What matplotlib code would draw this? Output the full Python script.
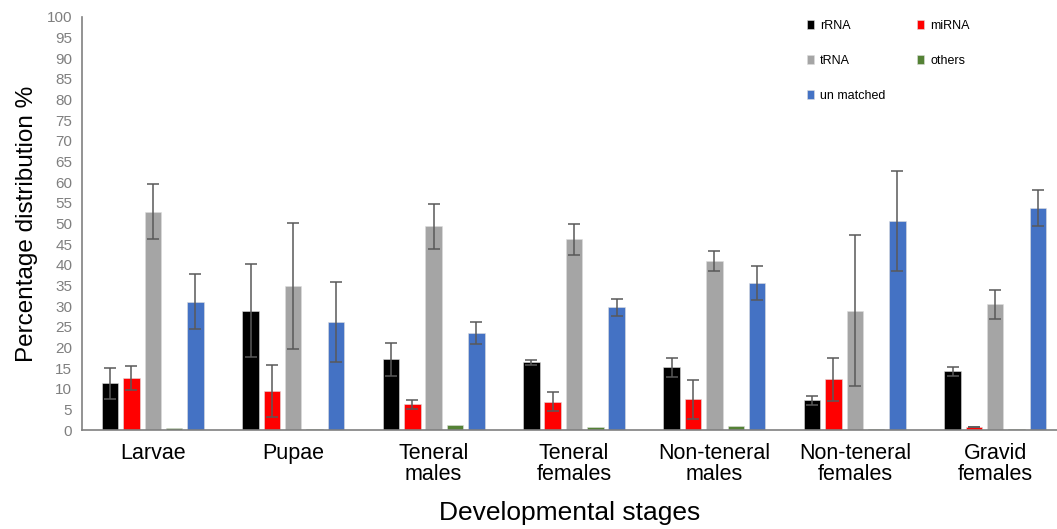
import numpy as np
import matplotlib
matplotlib.use("Agg")
import matplotlib.pyplot as plt

# data
stages = ["Larvae", "Pupae", "Teneral\nmales", "Teneral\nfemales",
          "Non-teneral\nmales", "Non-teneral\nfemales", "Gravid\nfemales"]
series = ["rRNA", "miRNA", "tRNA", "others", "un matched"]

rrna = [11.3, 28.9, 17.1, 16.4, 15.2, 7.2, 14.2]
rrna_err = [3.8, 11.3, 3.9, 0.6, 2.3, 1.1, 1.1]
mirna = [12.7, 9.4, 6.2, 6.9, 7.5, 12.3, 0.8]
mirna_err = [2.9, 6.3, 1.2, 2.4, 4.7, 5.2, 0.0]
trna = [52.9, 34.9, 49.3, 46.2, 41.0, 28.9, 30.4]
trna_err = [6.6, 15.3, 5.4, 3.8, 2.4, 18.2, 3.6]
others = [0.5, 0.2, 1.2, 0.8, 0.9, 0.3, 0.3]
unmatched = [31.1, 26.1, 23.5, 29.7, 35.6, 50.6, 53.8]
unmatched_err = [6.6, 9.7, 2.7, 2.0, 4.1, 12.2, 4.3]

values = [rrna, mirna, trna, others, unmatched]
errors = [rrna_err, mirna_err, trna_err, None, unmatched_err]
colors = ["#000000", "#ff0000", "#a5a5a5", "#548235", "#4472c4"]

plt.rcParams["font.family"] = ["Liberation Sans", "DejaVu Sans"]

fig = plt.figure(figsize=(10.57, 5.29), dpi=100)
ax = fig.add_axes([0.0776, 0.187, 0.9224, 0.781])

x = np.arange(len(stages))
step = 0.152
width = 0.1175
handles = []
for i, (vals, err, col, name) in enumerate(zip(values, errors, colors, series)):
    pos = x + (i - 2) * step
    b = ax.bar(pos, vals, width, color=col, label=name, edgecolor="#dddddd", linewidth=0.4, zorder=2)
    handles.append(b)
    if err is not None:
        ax.errorbar(pos, vals, yerr=err, fmt="none", ecolor="#595959",
                    elinewidth=1.1, capsize=4.5, capthick=1.1, zorder=3)

ax.set_xlim(-0.504, 6.44)
ax.set_ylim(0, 100)
ax.set_yticks(np.arange(0, 101, 5))
ax.tick_params(axis="y", length=0, labelsize=11, labelcolor="#7f7f7f", pad=7)
ax.set_xticks(x)
ax.set_xticklabels(stages, fontsize=15.5, linespacing=1.05)
ax.tick_params(axis="x", length=0, pad=9)

for s in ["top", "right"]:
    ax.spines[s].set_visible(False)
ax.spines["left"].set_color("#808080")
ax.spines["bottom"].set_color("#808080")
ax.spines["left"].set_linewidth(1.2)
ax.spines["bottom"].set_linewidth(1.2)

ax.set_ylabel("Percentage distribution %", fontsize=17.5, labelpad=6)
ax.set_xlabel("Developmental stages", fontsize=19, labelpad=11)

# row-wise legend order: rRNA miRNA / tRNA others / un matched
order = [0, 2, 4, 1, 3]
ax.legend([handles[k] for k in order], [series[k] for k in order],
          ncol=2, frameon=False, fontsize=9, loc="upper left",
          bbox_to_anchor=(0.732, 1.02), handlelength=0.56, handleheight=0.75,
          handletextpad=0.5, labelspacing=1.85, columnspacing=2.5)

fig.savefig("out.png", dpi=100)
